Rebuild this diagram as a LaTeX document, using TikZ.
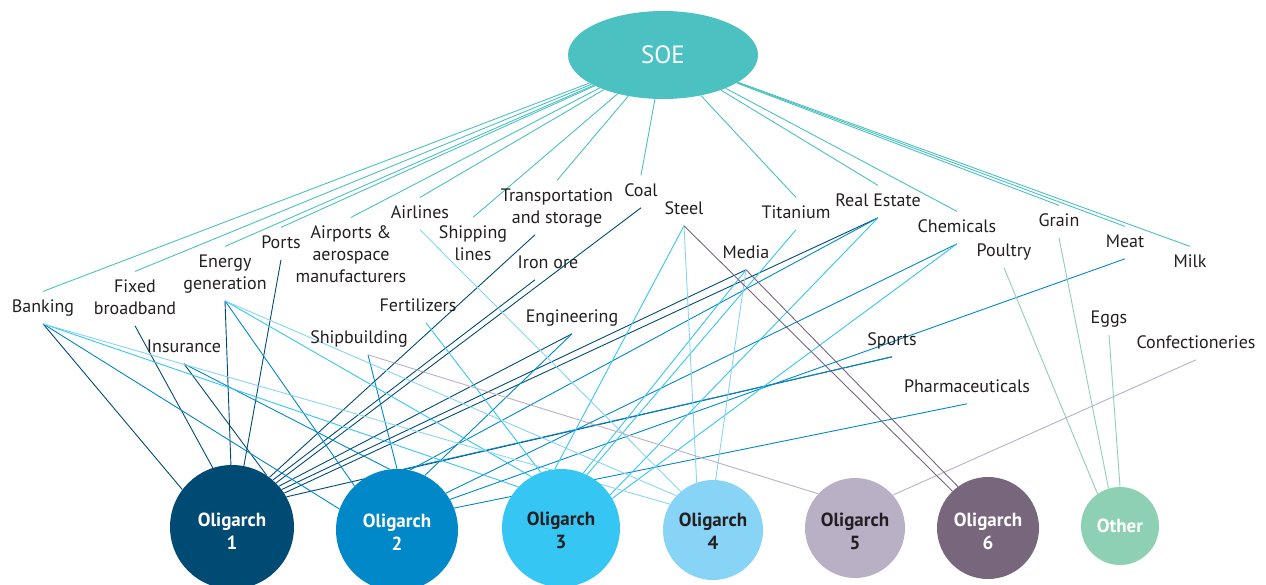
\documentclass[tikz,border=0pt]{standalone}
\usepackage{fontspec}
\setmainfont{PT Sans}
\usetikzlibrary{shapes.geometric}
\definecolor{soec}{RGB}{76,193,193}
\definecolor{ca}{RGB}{0,75,115}
\definecolor{cb}{RGB}{0,136,201}
\definecolor{cc}{RGB}{53,198,244}
\definecolor{cd}{RGB}{135,212,246}
\definecolor{ce}{RGB}{186,176,198}
\definecolor{cf}{RGB}{120,102,124}
\definecolor{cg}{RGB}{141,208,179}
\definecolor{txt}{RGB}{35,31,32}
\newcommand{\lbf}{\fontsize{18}{22}\selectfont}
\pgfdeclarelayer{bg}
\pgfsetlayers{bg,main}
\begin{document}
\begin{tikzpicture}[x=1pt,y=-1pt,
  lab/.style={font=\lbf, text=txt, align=center, anchor=base, inner sep=5pt},
  olig/.style={circle, minimum size=#1, inner sep=0pt},
  otext/.style={align=center, inner sep=0pt, font=\fontsize{19}{23}\selectfont\bfseries},
  soel/.style={draw=soec, line width=0.9pt},
  la/.style={draw=ca, line width=0.9pt},
  lb/.style={draw=cb, line width=0.9pt},
  lc/.style={draw=cc, line width=0.9pt},
  ld/.style={draw=cd, line width=0.9pt},
  le/.style={draw=ce, line width=0.9pt},
  lf/.style={draw=cf, line width=0.9pt},
  lg/.style={draw=cg, line width=0.9pt}]
\clip (0,0) rectangle (1266,584);

% top node
\node[ellipse, fill=soec, minimum width=190, minimum height=88, inner sep=0pt,
  text=white, font=\fontsize{25}{30}\selectfont] (soe) at (663,55) {SOE};

% sector labels (multi-line labels are placed by the baseline of their last line)
\node[lab] (bank) at (43,312) {\strut Banking};
\node[lab] (fixed) at (135,314) {\strut Fixed\\\strut broadband};
\node[lab] (energy) at (225,289) {\strut Energy\\\strut generation};
\node[lab] (ports) at (281,248) {\strut Ports};
\node[lab] (airp) at (351,282) {\strut Airports \&\\\strut aerospace\\\strut manufacturers};
\node[lab] (airl) at (420,218) {\strut Airlines};
\node[lab] (ship) at (473,260) {\strut Shipping\\\strut lines};
\node[lab] (trans) at (557,223) {\strut Transportation\\\strut and storage};
\node[lab] (coal) at (641,196) {\strut Coal};
\node[lab] (steel) at (684,214) {\strut Steel};
\node[lab] (iron) at (548,268) {\strut Iron ore};
\node[lab] (fert) at (418,311) {\strut Fertilizers};
\node[lab] (eng) at (572,322) {\strut Engineering};
\node[lab] (shipb) at (359,343) {\strut Shipbuilding};
\node[lab] (ins) at (184,352) {\strut Insurance};
\node[lab] (media) at (746,258) {\strut Media};
\node[lab] (tit) at (796,218) {\strut Titanium};
\node[lab] (real) at (878,206) {\strut Real Estate};
\node[lab] (chem) at (957,232) {\strut Chemicals};
\node[lab] (poul) at (1004,256) {\strut Poultry};
\node[lab] (grain) at (1059,226) {\strut Grain};
\node[lab] (meat) at (1125,247) {\strut Meat};
\node[lab] (milk) at (1190,267) {\strut Milk};
\node[lab] (eggs) at (1109,323) {\strut Eggs};
\node[lab] (conf) at (1196,348) {\strut Confectioneries};
\node[lab] (sports) at (892,345) {\strut Sports};
\node[lab] (pharma) at (967,392) {\strut Pharmaceuticals};

% owners
\node[olig=124, fill=ca] (o1) at (232,527) {};
\node[olig=122, fill=cb] (o2) at (397,530) {};
\node[olig=118, fill=cc] (o3) at (561,528) {};
\node[olig=100, fill=cd] (o4) at (713,530) {};
\node[olig=100, fill=ce] (o5) at (855,528) {};
\node[olig=102, fill=cf] (o6) at (988,528) {};
\node[olig=78, fill=cg] (oth) at (1120,526) {};
\node[otext, text=white] (o1t) at ([yshift=-4pt]o1.center) {Oligarch\\1};
\node[otext, text=white] (o2t) at ([yshift=-2pt]o2.center) {Oligarch\\2};
\node[otext, text=txt] (o3t) at ([yshift=-2pt]o3.center) {Oligarch\\3};
\node[otext, text=txt] (o4t) at ([yshift=-1pt]o4.center) {Oligarch\\4};
\node[otext, text=txt] (o5t) at ([yshift=-3pt]o5.center) {Oligarch\\5};
\node[otext, text=white] (o6t) at ([yshift=-3pt]o6.center) {Oligarch\\6};
\node[otext, text=white] (otht) at (oth.center) {Other};

\begin{pgfonlayer}{bg}
\foreach \t in {bank,fixed,energy,ports,airp,airl,ship,trans,coal,tit,real,chem,grain,meat,milk}
  \draw[soel] (soe) -- (\t.north);
% Oligarch 1
\draw[la] (bank.south) -- (o1.143);
\draw[la] (fixed.south) -- (o1.108);
\draw[la] (energy.south) -- (o1.91);
\draw[la] (ports.south) -- (o1.79);
\draw[la] (ins.south) -- (o1.56);
\draw[la] ([xshift=-22pt]trans.south) -- (o1.53);
\draw[la] ([xshift=-13pt]iron.south) -- (o1.49);
\draw[la] (coal.south) -- (o1.45);
\draw[la] (eng.south) -- (o1.41);
\draw[la] (media.south) -- (o1.37);
\draw[la] (real.south) -- (o1.33);
\draw[la] (sports.south) -- (o1.29);
% Oligarch 2
\draw[lb] (bank.south) -- (o2.160);
\draw[lb] (energy.south) -- (o2.134);
\draw[lb] (ins.south) -- (o2.97);
\draw[lb] ([xshift=9pt]shipb.south) -- (o2.90);
\draw[lb] (sports.south) -- (o2.84);
\draw[lb] (real.south) -- (o2.78);
\draw[lb] (eng.south) -- (o2.63);
\draw[lb] (chem.south) -- (o2.37);
\draw[lb] (meat.south) -- (o2.30);
\draw[lb] (pharma.south) -- (o2.21);
% Oligarch 3
\draw[lc] (bank.south) -- (o3.136);
\draw[lc] (energy.south) -- (o3.120);
\draw[lc] ([xshift=8pt]fert.south) -- (o3.110);
\draw[lc] (steel.south) -- (o3.96);
\draw[lc] (media.south) -- (o3.68);
\draw[lc] (tit.south) -- (o3.64);
\draw[lc] (real.south) -- (o3.34);
\draw[lc] (chem.south) -- (o3.30);
% Oligarch 4
\draw[ld] (bank.south) -- (o4.149);
\draw[ld] (energy.south) -- (o4.137);
\draw[ld] (airl.south) -- (o4.130);
\draw[ld] (steel.south) -- (o4.109);
\draw[ld] (media.south) -- (o4.87);
% Oligarch 5
\draw[le] ([xshift=9pt]shipb.south) -- (o5.137);
\draw[le] (conf.south) -- (o5.41);
% Oligarch 6
\draw[lf] (steel.south) -- (o6.134);
\draw[lf] (media.south) -- (o6.126);
% Other
\draw[lg] (poul.south) -- (oth.125);
\draw[lg] (grain.south) -- (oth.107);
\draw[lg] (eggs.south) -- (oth.90);
\end{pgfonlayer}
\end{tikzpicture}
\end{document}
